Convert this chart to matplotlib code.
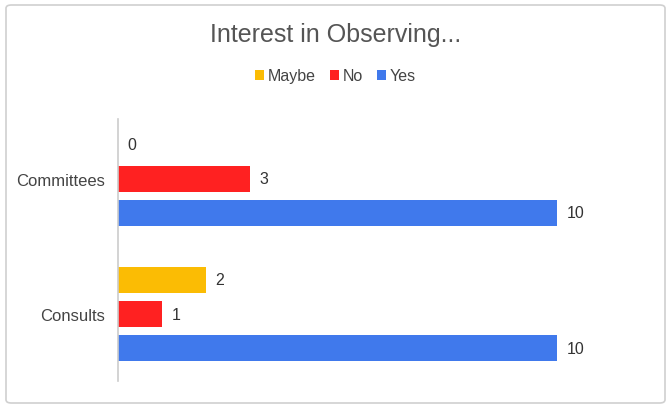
import matplotlib
matplotlib.use("Agg")
import matplotlib.pyplot as plt
from matplotlib.patches import FancyBboxPatch
import numpy as np

plt.rcParams['font.family'] = ['Liberation Sans', 'DejaVu Sans']

categories = ["Committees", "Consults"]
series_names = ["Maybe", "No", "Yes"]
maybe = [0, 2]
no = [3, 1]
yes = [10, 10]
colors = ["#FBBC04", "#FF2121", "#4079EC"]
title = "Interest in Observing..."

fig = plt.figure(figsize=(6.71, 4.10), dpi=100)
ax = fig.add_axes([118/671, 1-382/410, (601-118)/671, (382-120)/410])

pos = np.arange(len(categories))
offsets = [-0.252, 0.0, 0.252]
h = 0.193
for vals, off, c, name in zip([maybe, no, yes], offsets, colors, series_names):
    bars = ax.barh(pos + off, vals, height=h, color=c, label=name)
    for b, v in zip(bars, vals):
        ax.text(v + 0.22, b.get_y() + b.get_height()/2, str(v),
                va='center', ha='left', fontsize=11.5, color='#333333')

ax.set_xlim(0, 11)
ax.set_ylim(1.496, -0.444)
ax.set_yticks(pos)
ax.set_yticklabels(categories, fontsize=12, color='#444444')
ax.tick_params(axis='y', length=0, pad=9.5)
ax.set_xticks([])
for s in ['top', 'right', 'bottom']:
    ax.spines[s].set_visible(False)
ax.spines['left'].set_color('#cccccc')
ax.spines['left'].set_linewidth(1.2)

fig.text(0.5, 1-35/410, title, ha='center', va='center', fontsize=18, color='#555555')
fig.legend(loc='center', bbox_to_anchor=(0.5, 1-77/410), ncol=3, frameon=False,
           fontsize=11.5, handlelength=0.55, handleheight=0.55, handletextpad=0.25,
           columnspacing=0.9, labelcolor='#444444')

border = FancyBboxPatch((6/671, 6/410), (665-6)/671, (404-6)/410,
                        boxstyle="round,pad=0,rounding_size=0.008",
                        transform=fig.transFigure, fill=False,
                        edgecolor='#d0d0d0', linewidth=1.2)
fig.patches.append(border)

fig.savefig("out.png", dpi=100)
